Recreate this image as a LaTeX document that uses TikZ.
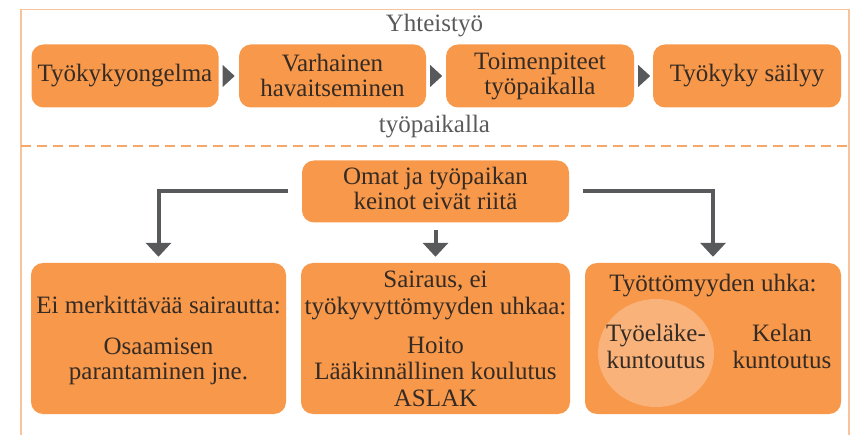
\documentclass[tikz,border=0pt]{standalone}
\usepackage{fontspec}
\setmainfont{LiberationSerif}[Extension=.ttf,UprightFont=*-Regular,BoldFont=*-Bold,ItalicFont=*-Italic,BoldItalicFont=*-BoldItalic]
\usetikzlibrary{arrows.meta,shapes.geometric,calc}
\definecolor{org}{HTML}{F7984A}
\definecolor{orglight}{HTML}{F9B37A}
\definecolor{framec}{HTML}{F8C39B}
\definecolor{dashc}{HTML}{F6A868}
\definecolor{darkg}{HTML}{58595B}
\definecolor{textc}{HTML}{352B24}
\definecolor{greyt}{HTML}{5A5A5A}
\tikzset{
  box/.style={fill=org, rounded corners=12pt, inner sep=0pt},
  txt/.style={font=\fontsize{25}{26}\selectfont, text=textc, inner sep=0pt, anchor=base},
  side/.style={txt, text=greyt},
  conn/.style={draw=darkg, line width=4pt, -{Triangle[width=25pt,length=14pt]}},
  tri/.style={fill=darkg}
}
\begin{document}
\begin{tikzpicture}[x=1pt,y=-1pt]
\useasboundingbox (0,0) rectangle (851,435);
% frame
\draw[framec, line width=1.5pt] (21,436) -- (21,9.5) -- (849,9.5) -- (849,436);
\draw[dashc, line width=2.5pt, dash pattern=on 10pt off 6pt] (21,146) -- (851,146);

% top row
\node[box, minimum width=187pt, minimum height=63pt] (b1) at (125,76) {};
\node[box, minimum width=187pt, minimum height=63pt] (b2) at (332.5,76) {};
\node[box, minimum width=188pt, minimum height=63pt] (b3) at (540,76) {};
\node[box, minimum width=188pt, minimum height=63pt] (b4) at (747,76) {};
\fill[tri] ($(b1.east)+(4,-11)$) -- ++(12,11) -- ++(-12,11) -- cycle;
\fill[tri] ($(b2.east)+(4,-11)$) -- ++(12,11) -- ++(-12,11) -- cycle;
\fill[tri] ($(b3.east)+(4,-11)$) -- ++(12,11) -- ++(-12,11) -- cycle;

\node[side] (ty1) at (434.5,32) {Yhteistyö};
\node[side] (ty2) at (434.5,133) {työpaikalla};

\node[txt] (t1) at (125,82) {Työkykyongelma};
\node[txt] (t2a) at (332.5,72) {Varhainen};
\node[txt] (t2b) at (332.5,97) {havaitseminen};
\node[txt] (t3a) at (540,70) {Toimenpiteet};
\node[txt] (t3b) at (540,95) {työpaikalla};
\node[txt] (t4) at (747,82) {Työkyky säilyy};

% middle
\node[box, minimum width=267pt, minimum height=62pt] (m) at (435.5,191.5) {};
\node[txt] (m1) at (435.5,185) {Omat ja työpaikan};
\node[txt] (m2) at (435.5,210) {keinot eivät riitä};

% bottom boxes
\node[box, minimum width=255pt, minimum height=151pt] (bl) at (158.5,338.5) {};
\node[box, minimum width=269pt, minimum height=151pt] (bm) at (435.5,338.5) {};
\node[box, minimum width=256pt, minimum height=151pt] (br) at (713,338.5) {};

\draw[conn] ([xshift=-14pt]m.west) -| ([yshift=6pt]bl.north);
\draw[conn] ([xshift=14pt]m.east) -| ([yshift=6pt]br.north);
\draw[conn] ([yshift=-7pt]m.south) -- ([yshift=6pt]bm.north);

\node[txt] (l1) at (158.5,314) {Ei merkittävää sairautta:};
\node[txt] (l2) at (158.5,355) {Osaamisen};
\node[txt] (l3) at (158.5,380) {parantaminen jne.};

\node[txt] (c1) at (435.5,288) {Sairaus, ei};
\node[txt] (c2) at (435.5,315) {työkyvyttömyyden uhkaa:};
\node[txt] (c3) at (435.5,354) {Hoito};
\node[txt] (c4) at (435.5,380) {Lääkinnällinen koulutus};
\node[txt] (c5) at (435.5,406) {ASLAK};

\node[ellipse, fill=orglight, minimum width=116pt, minimum height=108pt, inner sep=0pt] (el) at (656,353) {};
\node[txt] (r1) at (713,292) {Työttömyyden uhka:};
\node[txt] (r2) at (656,342) {Työeläke-};
\node[txt] (r3) at (656,368) {kuntoutus};
\node[txt] (r4) at (782,342) {Kelan};
\node[txt] (r5) at (782,368) {kuntoutus};
\end{tikzpicture}
\end{document}
